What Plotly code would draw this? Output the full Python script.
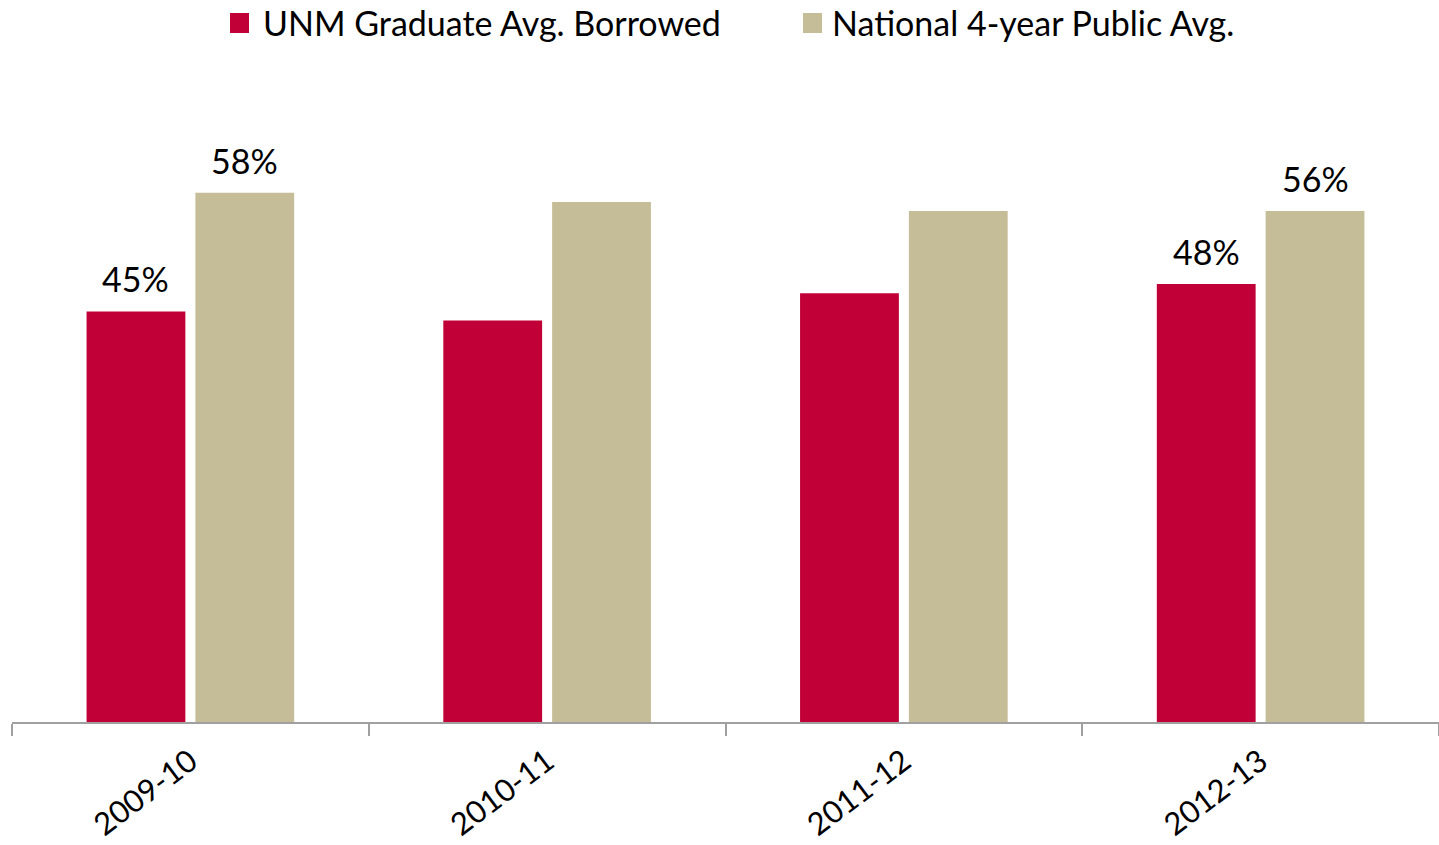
import plotly.graph_objects as go

# Academic years on the x axis
years = ["2009-10", "2010-11", "2011-12", "2012-13"]

# Percent of graduates who borrowed
unm_avg = [45, 44, 47, 48]
national_avg = [58, 57, 56, 56]

# Which bars carry a value label
unm_labeled = [True, False, False, True]
national_labeled = [True, False, False, True]

series_names = ["UNM Graduate Avg. Borrowed", "National 4-year Public Avg."]
colors = ["#C00037", "#C5BD98"]

FONT = "Lato"
FSIZE = 34

fig = go.Figure()
fig.add_trace(go.Bar(x=years, y=unm_avg, name=series_names[0],
                     marker=dict(color=colors[0], line=dict(width=0)),
                     hoverinfo="x+y"))
fig.add_trace(go.Bar(x=years, y=national_avg, name=series_names[1],
                     marker=dict(color=colors[1], line=dict(width=0)),
                     hoverinfo="x+y"))

W, H = 1439, 845
ml, mr, mt, mb = 12, 0, 129, 123
bargap, bargroupgap = 0.39, 0.092
cat_w = (W - ml - mr) / len(years)
slot = cat_w * (1 - bargap) / 2
offset = slot / 2

annotations = []
for vals, flags, sign in [(unm_avg, unm_labeled, -1), (national_avg, national_labeled, 1)]:
    for yr, v, show in zip(years, vals, flags):
        if show:
            annotations.append(dict(
                x=yr, y=v, xref="x", yref="y", text=f"{v}%", showarrow=False,
                xshift=sign * offset, yanchor="bottom", yshift=10,
                font=dict(family=FONT, size=FSIZE, color="#000000")))

# Legend drawn as swatches + labels across the top
shapes = []
legend_items = [(230, 261), (803, 830)]
for (sx, tx), name, col in zip(legend_items, series_names, colors):
    shapes.append(dict(type="rect", xref="paper", yref="paper",
                       x0=(sx - ml) / (W - ml - mr), x1=(sx + 19 - ml) / (W - ml - mr),
                       y0=(H - mb - 33) / (H - mt - mb), y1=(H - mb - 13) / (H - mt - mb),
                       fillcolor=col, line=dict(width=0)))
    annotations.append(dict(x=(tx - ml) / (W - ml - mr), y=(H - mb - 22) / (H - mt - mb),
                            xref="paper", yref="paper", xanchor="left", yanchor="middle",
                            text=name, showarrow=False,
                            font=dict(family=FONT, size=FSIZE, color="#000000")))

fig.update_layout(
    width=W, height=H,
    margin=dict(l=ml, r=mr, t=mt, b=mb, pad=0, autoexpand=False),
    barmode="group", bargap=bargap, bargroupgap=bargroupgap,
    plot_bgcolor="white", paper_bgcolor="white",
    showlegend=False,
    font=dict(family=FONT, size=FSIZE, color="#000000"),
    annotations=annotations, shapes=shapes,
    xaxis=dict(type="category", showline=True, linecolor="#A0A0A0", linewidth=2,
               ticks="outside", tickson="boundaries", ticklen=12, tickwidth=2,
               tickcolor="#A0A0A0", tickangle=-37, showgrid=False,
               ticklabelstandoff=7, automargin=False,
               tickfont=dict(family=FONT, size=31, color="#000000")),
    yaxis=dict(range=[0, 65], visible=False, showgrid=False, zeroline=False,
               automargin=False),
)

fig.write_html("out.html")
